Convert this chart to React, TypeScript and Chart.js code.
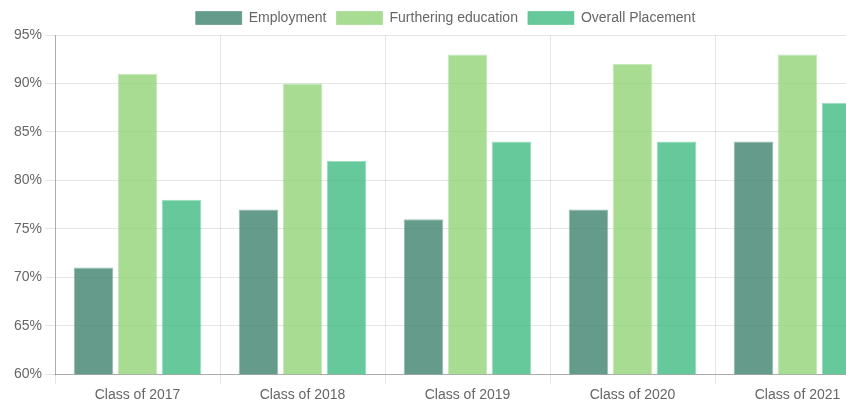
import React, { useEffect, useRef } from "react";
import { Chart, registerables } from "chart.js";

Chart.register(...registerables);

const categories = ["Class of 2017", "Class of 2018", "Class of 2019", "Class of 2020", "Class of 2021"];
const employment = [71, 77, 76, 77, 84];
const furthering = [91, 90, 93, 92, 93];
const overall = [78, 82, 84, 84, 88];
const yMin = 60;
const yMax = 95;
const yStep = 5;

const FONT = "'Liberation Sans', Arial, sans-serif";

export default function App() {
  const ref = useRef<HTMLCanvasElement | null>(null);
  useEffect(() => {
    if (!ref.current) return;
    const chart = new Chart(ref.current, {
      type: "bar",
      data: {
        labels: categories,
        datasets: [
          {
            label: "Employment",
            data: employment,
            backgroundColor: "rgba(61,130,110,0.8)",
            borderColor: "rgba(61,130,110,0.5)",
            borderWidth: 1,
          },
          {
            label: "Furthering education",
            data: furthering,
            backgroundColor: "rgba(146,211,120,0.8)",
            borderColor: "rgba(146,211,120,0.5)",
            borderWidth: 1,
          },
          {
            label: "Overall Placement",
            data: overall,
            backgroundColor: "rgba(64,187,130,0.8)",
            borderColor: "rgba(64,187,130,0.5)",
            borderWidth: 1,
          },
        ],
      },
      options: {
        animation: false,
        responsive: true,
        maintainAspectRatio: false,
        layout: { padding: { left: 11, right: 10, top: 1, bottom: 0 } },
        plugins: {
          legend: {
            position: "top",
            labels: {
              boxWidth: 46,
              boxHeight: 13,
              padding: 10,
              color: "#666",
              font: { family: FONT, size: 14 },
            },
          },
          tooltip: { enabled: false },
        },
        scales: {
          x: {
            grid: { offset: true, color: "rgba(0,0,0,0.1)", tickLength: 10 },
            border: { color: "rgba(0,0,0,0.25)" },
            ticks: {
              color: "#666",
              font: { family: FONT, size: 14 },
            },
          },
          y: {
            min: yMin,
            max: yMax,
            grid: { color: "rgba(0,0,0,0.1)", tickLength: 10 },
            border: { color: "rgba(0,0,0,0.25)" },
            ticks: {
              stepSize: yStep,
              color: "#666",
              font: { family: FONT, size: 14 },
              callback: (v: any) => `${v}%`,
            },
          },
        },
      },
    });
    return () => chart.destroy();
  }, []);
  return (
    <div style={{ position: "absolute", left: 0, top: 0, width: 890, height: 407 }}>
      <canvas ref={ref} />
    </div>
  );
}
